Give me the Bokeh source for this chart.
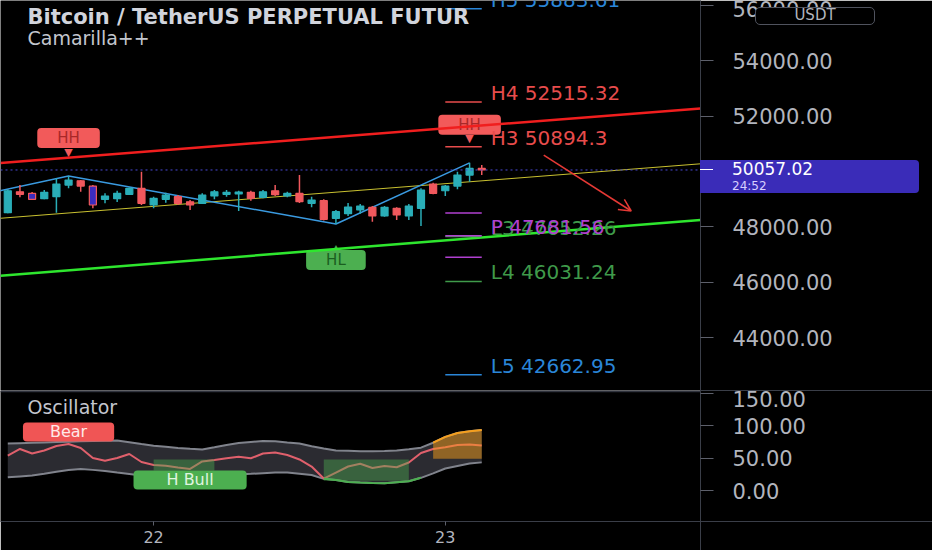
from bokeh.plotting import figure
from bokeh.layouts import column
from bokeh.models import (ColumnDataSource, Range1d, FixedTicker, NumeralTickFormatter,
                          Label, Span, Arrow, OpenHead, Div)
from bokeh.core.properties import value
from bokeh.embed import file_html
from bokeh.resources import INLINE

# ---------------- data ----------------
hours = list(range(-12, 28))          # hourly candles, 0 = day 22 00:00
opens = [48514, 49271, 49213, 49019, 49091, 49513, 49667, 49477, 48997, 49019,
         49177, 49394, 48792, 48997, 49091, 48910, 48853, 49117, 49177, 49189,
         49250, 49070, 49307, 49117, 49213, 48853, 48948, 48312, 48480, 48612,
         48709, 48395, 48673, 48395, 48673, 49548, 49307, 49477, 49873, 50114]
highs = [49357, 49512, 49260, 49332, 49754, 49837, 49693, 49513, 49213, 49307,
         49422, 49992, 49091, 49235, 49153, 48972, 49213, 49332, 49332, 49307,
         49307, 49332, 49513, 49271, 49873, 49091, 48997, 48612, 48864, 48828,
         48756, 48756, 48709, 48828, 49394, 49595, 49513, 49992, 50316, 50233]
lows = [48493, 49069, 48972, 48997, 48509, 49394, 49271, 48673, 48853, 48900,
        49150, 48792, 48673, 48875, 48792, 48612, 48828, 48997, 49091, 48575,
        48948, 49034, 49117, 49070, 48864, 48709, 48228, 48107, 48395, 48480,
        48191, 48371, 48251, 48251, 48035, 49177, 49117, 49358, 49632, 49873]
closes = [49307, 49177, 48997, 49250, 49548, 49693, 49477, 48792, 49117, 49213,
          49394, 48853, 49034, 49153, 48853, 48792, 49153, 49271, 49250, 49260,
          49034, 49271, 49163, 49213, 48911, 48972, 48276, 48550, 48720, 48756,
          48395, 48709, 48431, 48756, 49332, 49213, 49477, 49873, 50114, 50057.02]
marked_hours = [-10, -5]               # highlighted bars

last_price = 50057.02
countdown = "24:52"
currency = "USDT"

price_ticks = [44000, 46000, 48000, 52000, 54000, 56000]
osc_ticks = [0, 50, 100, 150]
day_ticks = [0, 24]
day_labels = ["22", "23"]

level_names = ["H5", "H4", "H3", "L3", "P", "L4", "L5"]
level_values = [55883.61, 52515.32, 50894.3, 47652.26, 47681.56, 46031.24, 42662.95]
aux_levels = [48504, 46907]
level_start, level_end = 24, 27

resistance_x, resistance_y = [-12.6, 45.0], [50312, 52277]
support_x, support_y = [-12.6, 45.0], [46233, 48251]
channel_x, channel_y = [-12.6, 45.0], [48312, 50280]
zigzag_x = [-16, -7, 15, 26]
zigzag_y = [48986, 49837, 48107, 50316]
arrow_x, arrow_y = [32.1, 39.3], [50594, 48575]

pivot_labels = [("HH", -7, "high"), ("HL", 15, "low"), ("HH", 26, "high")]

osc = [54.1, 64.2, 57.2, 61.9, 68.8, 71.9, 65.7, 50.3, 46.1, 50.3,
       56.5, 44.1, 39.4, 38.4, 35.6, 33.3, 44.9, 47.0, 49.8, 52.1,
       49.8, 57.2, 58.8, 54.9, 48.0, 37.1, 18.5, 27.8, 37.1, 41.3,
       34.8, 37.9, 36.0, 43.3, 58.0, 64.2, 66.8, 70.4, 71.2, 69.6]
osc_upper = [72.6, 73.2, 73.8, 74.4, 75.0, 75.5, 76.1, 76.6, 77.0, 77.3,
             74.7, 71.8, 69.2, 67.6, 65.9, 64.4, 63.4, 66.8, 70.5, 73.3,
             75.0, 76.7, 76.3, 74.3, 72.6, 68.4, 65.0, 61.7, 61.3, 60.6,
             60.6, 61.1, 61.9, 63.9, 66.2, 73.9, 82.9, 88.8, 91.6, 93.6]
osc_lower = [20.4, 21.8, 23.2, 25.8, 28.9, 31.7, 33.1, 31.9, 30.2, 27.8,
             25.5, 23.2, 22.9, 22.6, 22.3, 22.0, 21.8, 22.9, 24.0, 24.9,
             25.8, 26.8, 27.7, 27.7, 26.0, 24.0, 18.0, 16.1, 13.3, 12.4,
             11.8, 11.4, 12.8, 14.2, 19.6, 26.5, 34.0, 38.0, 41.6, 43.5]
bull_zone_start = [0, 14]
bull_zone_end = [5, 21]
bull_zone_low = [31, 15]
bull_zone_high = [48, 48]
bull_band = (14, 22)
bear_zone = (23, 27)
bear_zone_base = 49
osc_labels = [("Bear", -7, "above"), ("H Bull", 3, "below")]

# ---------------- styles ----------------
FONT = "DejaVu Sans"
UP, DOWN = "#2aaeb8", "#f0585d"
LEVEL_COLORS = {"H5": "#2a86d8", "H4": "#e84c4c", "H3": "#e84c4c", "P": "#b040d0",
                "L3": "#3f9a4a", "L4": "#3f9a4a", "L5": "#2a86d8"}
FW, RIGHT, H1, H2, XAX = 700, 232, 390, 131, 29
Y1 = Range1d(42090, 56180)
GUIDE = "#3a3e48"

x_range = Range1d(-12.6, 45.0)


def base_fig(height, y_range, **kw):
    p = figure(frame_width=FW, frame_height=height, x_range=x_range, y_range=y_range,
               output_backend="svg", toolbar_location=None, y_axis_location="right",
               min_border_left=0, min_border_right=RIGHT, min_border_top=0, **kw)
    p.background_fill_color = "black"
    p.border_fill_color = "black"
    p.outline_line_color = None
    p.grid.visible = False
    ax = p.yaxis[0]
    ax.axis_line_color = GUIDE
    ax.major_tick_line_color = "#5d606b"
    ax.major_tick_out = 13
    ax.major_tick_in = 0
    ax.minor_tick_line_color = None
    ax.major_label_standoff = 19
    ax.major_label_text_color = "#b2b5be"
    ax.major_label_text_font = FONT
    ax.major_label_text_font_size = "21px"
    ax.formatter = NumeralTickFormatter(format="0.00")
    return p


OVERLAY_CSS = ":host{line-height:0;font-size:0;} div{vertical-align:top;}"


def overlay(html, left, top, width, height):
    return Div(text=html, width=width, height=height, margin=0,
               stylesheets=[OVERLAY_CSS],
               styles={"position": "absolute", "left": f"{left}px", "top": f"{top}px",
                       "z-index": "5"})


# ---------------- price pane ----------------
p1 = base_fig(H1, Y1, x_axis_location=None, min_border_bottom=0)
p1.yaxis[0].ticker = FixedTicker(ticks=price_ticks)

p1.add_layout(Span(location=last_price, dimension="width", line_color="#4848d8",
                   line_dash="2 3", line_width=1))

p1.line(resistance_x, resistance_y, line_color="#f01e1e", line_width=2.5)
p1.line(support_x, support_y, line_color="#2ee62e", line_width=2.5)
p1.line(channel_x, channel_y, line_color="#c8c030", line_width=1)
p1.line(zigzag_x, zigzag_y, line_color="#3a9ae0", line_width=1.5)

colors = [UP if c >= o else DOWN for o, c in zip(opens, closes)]
fills = ["#3b2cc0" if h in marked_hours else col for h, col in zip(hours, colors)]
src = ColumnDataSource(dict(h=hours, hi=highs, lo=lows,
                            top=[max(o, c) for o, c in zip(opens, closes)],
                            bottom=[min(o, c) for o, c in zip(opens, closes)],
                            color=colors, fill=fills))
p1.segment(x0="h", y0="hi", x1="h", y1="lo", line_color="color", line_width=1.5, source=src)
p1.vbar(x="h", width=0.58, top="top", bottom="bottom", fill_color="fill",
        line_color="color", line_width=1.2, source=src)

# camarilla levels
p1.segment(x0=[level_start] * len(aux_levels), x1=[level_end] * len(aux_levels),
           y0=aux_levels, y1=aux_levels, line_color="#b040d0", line_width=1.5)
lvl_colors = [LEVEL_COLORS[n] for n in level_names]
p1.segment(x0=[level_start] * len(level_values), x1=[level_end] * len(level_values),
           y0=level_values, y1=level_values, line_color=lvl_colors, line_width=1.5)
p1.text(x=[level_end] * len(level_values), y=level_values,
        text=[f"{n} {v}" for n, v in zip(level_names, level_values)],
        text_color=lvl_colors, x_offset=9, y_offset=-9, text_baseline="middle",
        text_font=value(FONT), text_font_size="20px")

p1.add_layout(Arrow(end=OpenHead(size=12, line_color="#e53935", line_width=1.5),
                    x_start=arrow_x[0], y_start=arrow_y[0], x_end=arrow_x[1], y_end=arrow_y[1],
                    line_color="#e53935", line_width=1.5))

# pivot labels (padding order: left, right, top, bottom)
for txt, h, kind in pivot_labels:
    i = hours.index(h)
    if kind == "high":
        y, off, ptr, pc, bg, fg = highs[i], 38, "▼", 24, "#f25a5a", "#a82828"
    else:
        y, off, ptr, pc, bg, fg = lows[i], -36, "▲", -25, "#4caf50", "#1b5e20"
    p1.add_layout(Label(x=h, y=y, y_offset=pc, text=ptr, text_align="center",
                        text_baseline="middle", text_color=bg, text_font=FONT,
                        text_font_size="11px", level="underlay"))
    p1.add_layout(Label(x=h, y=y, y_offset=off, text=txt, text_align="center",
                        text_baseline="middle", text_color=fg, text_font=FONT,
                        text_font_size="15px", background_fill_color=bg,
                        border_radius=4, padding=(20, 20, 1, 1), level="underlay"))

p1.add_layout(Label(x=27, y=H1 - 16, x_units="screen", y_units="screen",
                    text="Bitcoin / TetherUS PERPETUAL FUTUR", text_baseline="middle",
                    text_color="#d1d4dc", text_font=FONT, text_font_size="21px",
                    text_font_style="bold"))
p1.add_layout(Label(x=27, y=H1 - 37, x_units="screen", y_units="screen",
                    text="Camarilla++", text_baseline="middle",
                    text_color="#c3c6ce", text_font=FONT, text_font_size="19px"))

# ---------------- oscillator pane ----------------
p2 = base_fig(H2, Range1d(-47.9, 154.6), min_border_bottom=XAX)
p2.yaxis[0].ticker = FixedTicker(ticks=osc_ticks)
xa = p2.xaxis[0]
xa.ticker = FixedTicker(ticks=day_ticks)
xa.major_label_overrides = {t: s for t, s in zip(day_ticks, day_labels)}
xa.axis_line_color = GUIDE
xa.major_tick_line_color = "#5d606b"
xa.major_tick_out = 4
xa.major_tick_in = 0
xa.minor_tick_line_color = None
xa.major_label_standoff = 5
xa.major_label_text_color = "#b2b5be"
xa.major_label_text_font = FONT
xa.major_label_text_font_size = "16px"

p2.add_layout(Span(location=153.5, dimension="width", line_color="#2f323c", line_width=2))

p2.varea(x=hours, y1=osc_lower, y2=osc_upper, fill_color="#2b2b31")
p2.line(hours, osc_upper, line_color="#80838c", line_width=2)
p2.line(hours, osc_lower, line_color="#80838c", line_width=2)
p2.line(hours, osc, line_color="#e0606c", line_width=2)

gb = [i for i, h in enumerate(hours) if bull_band[0] <= h <= bull_band[1]]
p2.line([hours[i] for i in gb], [osc_lower[i] for i in gb], line_color="#4caf50", line_width=2)
ob = [i for i, h in enumerate(hours) if bear_zone[0] <= h <= bear_zone[1]]
p2.line([hours[i] for i in ob], [osc_upper[i] for i in ob], line_color="#f5a020", line_width=2)

p2.quad(left=bull_zone_start, right=bull_zone_end, bottom=bull_zone_low, top=bull_zone_high,
        fill_color="#4caf50", fill_alpha=0.42, line_color=None)
p2.varea(x=[hours[i] for i in ob], y1=[bear_zone_base] * len(ob),
         y2=[osc_upper[i] for i in ob], fill_color="#f59d1a", fill_alpha=0.5)

for txt, h, pos in osc_labels:
    i = hours.index(h)
    if pos == "above":
        off, bg, fg, pad = 12, "#f05555", "#ffe8e8", (27, 27, 0, 0)
    else:
        off, bg, fg, pad = -11, "#4caf50", "#e0f5e0", (33, 33, 0, 0)
    p2.add_layout(Label(x=h, y=osc[i], y_offset=off, text=txt, text_align="center",
                        text_baseline="middle", text_color=fg, text_font=FONT,
                        text_font_size="16px", background_fill_color=bg,
                        border_radius=4, padding=pad))

p2.add_layout(Label(x=27, y=H2 - 16, x_units="screen", y_units="screen",
                    text="Oscillator", text_baseline="middle",
                    text_color="#c3c6ce", text_font=FONT, text_font_size="19px"))

# ---------------- HTML overlays on the price scale ----------------
price_top = round(H1 * (Y1.end - last_price) / (Y1.end - Y1.start) - 9)
price_html = (
    f"<div style='position:relative;width:219px;height:33px;box-sizing:border-box;"
    f"padding:0 0 0 32px;background:#3a2cb8;border-radius:0 4px 4px 0;"
    f"font-family:\"{FONT}\";color:#ffffff;overflow:visible'>"
    f"<div style='position:absolute;left:0;top:9px;width:13px;height:1px;background:#ffffff'></div>"
    f"<div style='font-size:17px;line-height:19px;white-space:nowrap'>{last_price:.2f}</div>"
    f"<div style='font-size:12px;line-height:14px;color:#d8d0ff;white-space:nowrap'>{countdown}</div>"
    f"</div>")
usdt_html = (
    f"<div style='width:120px;height:18px;box-sizing:border-box;border:1.5px solid #50535e;"
    f"border-radius:5px;background:#000000;color:#b2b5be;font-family:\"{FONT}\";"
    f"font-size:15px;line-height:15px;text-align:center'>{currency}</div>")
guide_css = f"background:{GUIDE}"
overlays = [
    overlay(price_html, FW, price_top, 219, 33),
    overlay(usdt_html, FW + 55, 7, 120, 18),
    overlay(f"<div style='width:{RIGHT}px;height:1px;{guide_css}'></div>", FW, H1, RIGHT, 1),
    overlay(f"<div style='width:{RIGHT}px;height:1px;{guide_css}'></div>", FW, H1 + H2, RIGHT, 1),
    overlay(f"<div style='width:1px;height:{XAX}px;{guide_css}'></div>", FW, H1 + H2, 1, XAX),
]

layout = column(p1, p2, *overlays, spacing=0)
open("out.html", "w").write(file_html(layout, INLINE))
